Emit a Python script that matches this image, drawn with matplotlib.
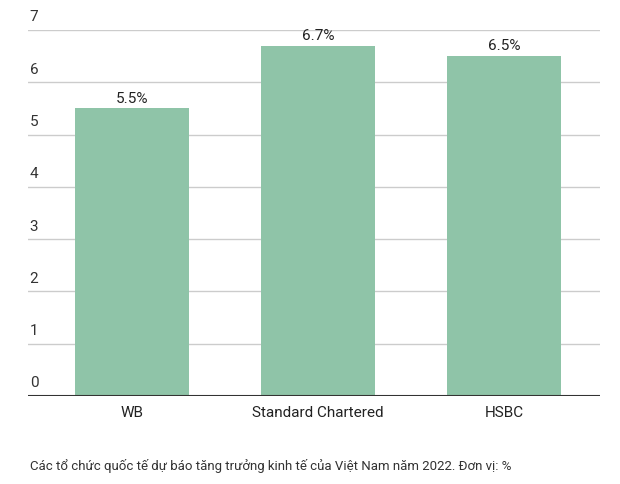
import matplotlib
matplotlib.use("Agg")
import matplotlib.pyplot as plt
from matplotlib.transforms import offset_copy

categories = ["WB", "Standard Chartered", "HSBC"]
values = [5.5, 6.7, 6.5]
labels = ["5.5%", "6.7%", "6.5%"]
yticks = [0, 1, 2, 3, 4, 5, 6, 7]
caption = "Các tổ chức quốc tế dự báo tăng trưởng kinh tế của Việt Nam năm 2022. Đơn vị: %"

plt.rcParams['font.family'] = ['Roboto', 'DejaVu Sans']
fig = plt.figure(figsize=(6.2, 4.84), dpi=100)
ax = fig.add_axes([28/620, 1-396/484, 572/620, 366/484])
x = list(range(len(categories)))
ax.bar(x, values, width=0.613, color="#8fc4a8", zorder=2)
ax.set_xlim(-0.56, 2.515)
ax.set_ylim(0, 7)
for s in ax.spines.values():
    s.set_visible(False)
ax.set_yticks([])
for v in yticks:
    ax.axhline(v, color="#cccccc" if v else "#333333", lw=1 if v else 1.5, zorder=1 if v else 3)
    ax.text(0.003, v, str(v), transform=offset_copy(ax.get_yaxis_transform(), fig=fig, y=4, units='points'),
            ha='left', va='bottom', fontsize=11, color="#333333")
for xi, v, l in zip(x, values, labels):
    ax.text(xi, v, l, transform=offset_copy(ax.transData, fig=fig, y=2, units='points'),
            ha='center', va='bottom', fontsize=11, color="#222222")
ax.set_xticks(x)
ax.set_xticklabels(categories, fontsize=11, color="#222222")
ax.tick_params(axis='x', length=0, pad=7)
fig.text(30/620, 1-466/484, caption, fontsize=9.5, color="#333333", va='center')
fig.savefig("out.png", dpi=100, facecolor="white")
